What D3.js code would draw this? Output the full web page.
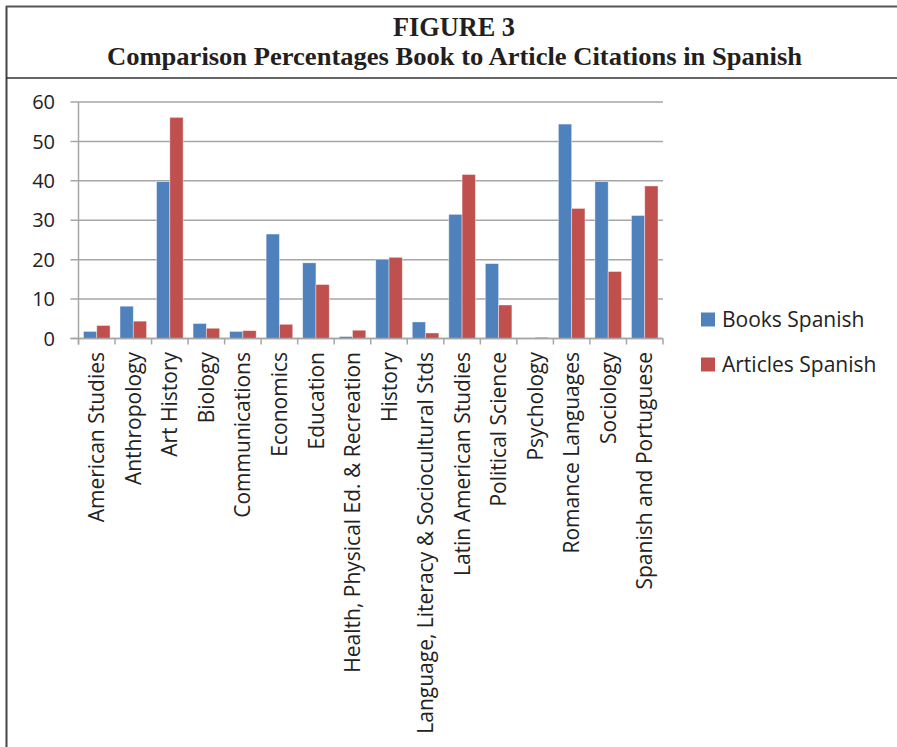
<!DOCTYPE html>
<html>
<head>
<meta charset="utf-8">
<script src="https://cdn.jsdelivr.net/npm/d3@7"></script>
<style>
  body { margin: 0; background: #fff; }
  svg { display: block; }
</style>
</head>
<body>
<div id="chart"></div>
<script>
const categories = [
  'American Studies', 'Anthropology', 'Art History', 'Biology', 'Communications',
  'Economics', 'Education', 'Health, Physical Ed. & Recreation', 'History',
  'Language, Literacy & Sociocultural Stds', 'Latin American Studies',
  'Political Science', 'Psychology', 'Romance Languages', 'Sociology',
  'Spanish and Portuguese'
];
const booksSpanish = [1.8, 8.2, 39.8, 3.8, 1.8, 26.5, 19.2, 0.5, 20.1, 4.2, 31.5, 19.0, 0, 54.4, 39.8, 31.2];
const articlesSpanish = [3.3, 4.4, 56.1, 2.6, 2.0, 3.6, 13.7, 2.1, 20.6, 1.4, 41.6, 8.5, 0.3, 33.0, 17.0, 38.7];
const seriesNames = ['Books Spanish', 'Articles Spanish'];
const yTicks = [0, 10, 20, 30, 40, 50, 60];

const W = 897, H = 747;
const colors = ['#4F81BD', '#C0504D'];
const plot = { left: 78.5, right: 663, top: 102, bottom: 338.5 };

const svg = d3.select('#chart').append('svg')
  .attr('width', W)
  .attr('height', H);

// frame
svg.append('line').attr('x1', 6.5).attr('x2', 6.5).attr('y1', 6).attr('y2', H)
  .attr('stroke', '#444').attr('stroke-width', 2);
svg.append('line').attr('x1', 6).attr('x2', W).attr('y1', 6.5).attr('y2', 6.5)
  .attr('stroke', '#555').attr('stroke-width', 2);
svg.append('line').attr('x1', 6).attr('x2', W).attr('y1', 78).attr('y2', 78)
  .attr('stroke', '#333').attr('stroke-width', 1.5);

// titles
const titleFont = '"Liberation Serif", "Times New Roman", serif';
svg.append('text')
  .attr('x', 454).attr('y', 36)
  .attr('text-anchor', 'middle')
  .attr('font-family', titleFont).attr('font-weight', 'bold')
  .attr('font-size', 28).attr('fill', '#231f20')
  .attr('textLength', 122).attr('lengthAdjust', 'spacingAndGlyphs')
  .text('FIGURE 3');
svg.append('text')
  .attr('x', 454.5).attr('y', 65)
  .attr('text-anchor', 'middle')
  .attr('font-family', titleFont).attr('font-weight', 'bold')
  .attr('font-size', 26).attr('fill', '#231f20')
  .attr('textLength', 695).attr('lengthAdjust', 'spacingAndGlyphs')
  .text('Comparison Percentages Book to Article Citations in Spanish');

const x = d3.scaleBand()
  .domain(categories)
  .range([plot.left, plot.right])
  .paddingInner(0)
  .paddingOuter(0);

const x1 = d3.scaleBand()
  .domain(seriesNames)
  .range([0, x.bandwidth()])
  .paddingInner(0)
  .paddingOuter(0.375);

const y = d3.scaleLinear()
  .domain([0, 60])
  .range([plot.bottom, plot.top]);

const labelFont = '"Open Sans", "Noto Sans", sans-serif';
const gridColor = '#a6a6a6';

// gridlines + y ticks
const yAxis = svg.append('g');
yAxis.selectAll('line.grid')
  .data(yTicks)
  .join('line')
  .attr('class', 'grid')
  .attr('x1', plot.left - 8).attr('x2', plot.right)
  .attr('y1', d => y(d)).attr('y2', d => y(d))
  .attr('stroke', gridColor).attr('stroke-width', 1.5);
yAxis.selectAll('text')
  .data(yTicks)
  .join('text')
  .attr('x', 55).attr('y', d => y(d))
  .attr('dy', '0.36em')
  .attr('text-anchor', 'end')
  .attr('font-family', labelFont).attr('font-size', 20)
  .attr('fill', '#222')
  .text(d => d);

// y axis line
svg.append('line')
  .attr('x1', plot.left).attr('x2', plot.left)
  .attr('y1', plot.top).attr('y2', plot.bottom + 6)
  .attr('stroke', gridColor).attr('stroke-width', 1.5);

// bars
const rows = categories.map((c, i) => ({ cat: c, values: [booksSpanish[i], articlesSpanish[i]] }));
const groups = svg.append('g').selectAll('g')
  .data(rows)
  .join('g')
  .attr('transform', d => `translate(${x(d.cat)},0)`);
groups.selectAll('rect')
  .data(d => d.values.map((v, k) => ({ v, k })))
  .join('rect')
  .attr('x', d => x1(seriesNames[d.k]))
  .attr('y', d => y(d.v))
  .attr('width', x1.bandwidth())
  .attr('height', d => y(0) - y(d.v))
  .attr('fill', d => colors[d.k])
  .attr('stroke', 'rgba(255,255,255,0.5)')
  .attr('stroke-width', 0.8);

// x axis baseline and ticks
svg.append('line')
  .attr('x1', plot.left - 8).attr('x2', plot.right)
  .attr('y1', plot.bottom).attr('y2', plot.bottom)
  .attr('stroke', gridColor).attr('stroke-width', 1.5);
const tickPos = categories.map(c => x(c)).concat([plot.right]);
svg.append('g').selectAll('line')
  .data(tickPos)
  .join('line')
  .attr('x1', d => d).attr('x2', d => d)
  .attr('y1', plot.bottom).attr('y2', plot.bottom + 6)
  .attr('stroke', gridColor).attr('stroke-width', 1.5);

// category labels
svg.append('g').selectAll('text')
  .data(categories)
  .join('text')
  .attr('transform', d => `translate(${x(d) + x.bandwidth() / 2},352) rotate(-90)`)
  .attr('dy', '0.36em')
  .attr('text-anchor', 'end')
  .attr('font-family', labelFont).attr('font-size', 21)
  .attr('fill', '#222')
  .text(d => d);

// legend
const legend = svg.append('g').selectAll('g')
  .data(seriesNames)
  .join('g')
  .attr('transform', (d, i) => `translate(701,${312.5 + i * 45})`);
legend.append('rect')
  .attr('width', 14).attr('height', 14)
  .attr('fill', (d, i) => colors[i]);
legend.append('text')
  .attr('x', 21).attr('y', 14)
  .attr('font-family', labelFont).attr('font-size', 21)
  .attr('fill', '#222')
  .text(d => d);
</script>
</body>
</html>
